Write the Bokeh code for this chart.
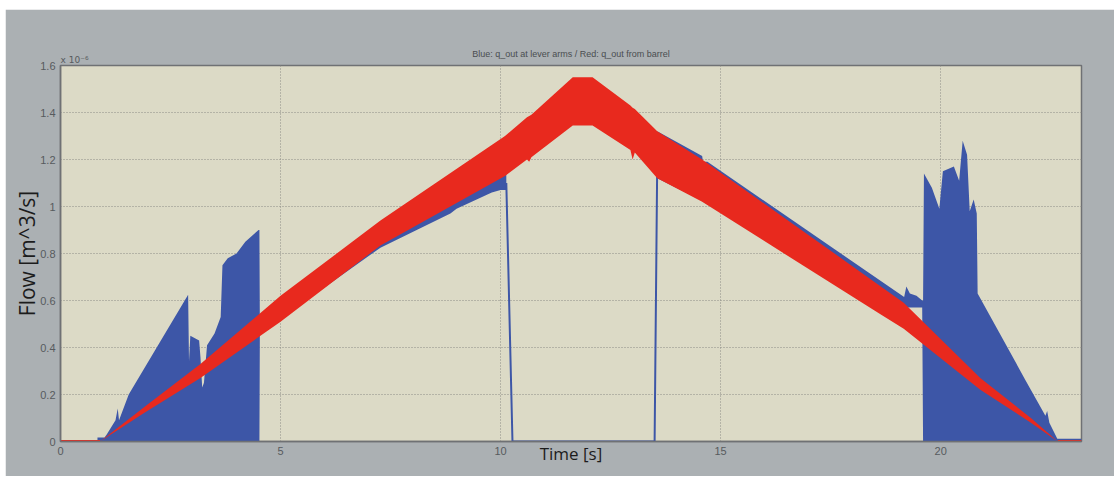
from bokeh.plotting import figure
from bokeh.models import FixedTicker, Range1d, Title
from bokeh.embed import file_html
from bokeh.resources import INLINE

# ---- data (flow in units of 1e-6 m^3/s, time in s) ----
# Red: q_out from barrel (band of a dense oscillation: lower / upper envelope)
red_x  = [0.90, 1.89, 3.18, 5.00, 7.27, 10.10, 10.60, 10.65, 10.70, 11.64, 12.09, 12.95, 13.00, 13.05, 13.56, 14.58, 18.64, 19.16, 20.90, 22.05, 22.66]
red_hi = [0.00, 0.145, 0.33, 0.62, 0.94, 1.30, 1.38, 1.385, 1.39, 1.55, 1.55, 1.43, 1.42, 1.415, 1.32, 1.20, 0.66, 0.59, 0.27, 0.10, 0.00]
red_lo = [0.00, 0.12, 0.27, 0.51, 0.834, 1.13, 1.20, 1.19, 1.21, 1.345, 1.345, 1.24, 1.20, 1.23, 1.12, 1.02, 0.54, 0.48, 0.22, 0.08, 0.00]
red_zero_x = [[0.0, 0.90], [22.66, 23.2]]

# Blue: q_out at lever arms, first part (0.84 s .. 10.13 s)
blue_a_x  = [0.84, 1.00, 1.05, 1.25, 1.30, 1.33, 1.55, 2.90, 2.92, 2.95, 3.15, 3.18, 3.22, 3.26, 3.33, 3.50, 3.64, 3.68, 3.80, 4.00, 4.20, 4.50, 4.52, 4.53, 7.27, 8.86, 9.00, 9.80, 10.00, 10.13]
blue_a_lo = [0.00, 0.00, 0.00, 0.00, 0.00, 0.00, 0.00, 0.00, 0.00, 0.00, 0.00, 0.00, 0.00, 0.00, 0.00, 0.00, 0.00, 0.00, 0.00, 0.00, 0.00, 0.00, 0.00, 0.46, 0.825, 0.97, 0.99, 1.06, 1.07, 1.07]
blue_a_hi = [0.017, 0.017, 0.03, 0.09, 0.14, 0.09, 0.20, 0.625, 0.34, 0.45, 0.43, 0.36, 0.23, 0.25, 0.41, 0.46, 0.53, 0.75, 0.78, 0.80, 0.85, 0.90, 0.90, 0.50, 0.88, 1.03, 1.05, 1.12, 1.14, 1.14]

# Blue: valve-closed part (drop to zero and rise again)
blue_gap_x = [10.13, 10.27, 13.50, 13.56]
blue_gap_y = [1.10, 0.00, 0.00, 1.20]

# Blue: second part (13.56 s .. end)
blue_b_x  = [13.56, 14.58, 14.60, 14.70, 19.17, 19.22, 19.30, 19.45, 19.58, 19.60, 19.62, 19.80, 19.97, 20.05, 20.30, 20.42, 20.50, 20.60, 20.66, 20.75, 20.82, 20.84, 21.93, 22.38, 22.42, 22.47, 22.65, 22.66, 23.20]
blue_b_lo = [1.12, 1.025, 1.02, 1.01, 0.57, 0.57, 0.57, 0.57, 0.57, 0.00, 0.00, 0.00, 0.00, 0.00, 0.00, 0.00, 0.00, 0.00, 0.00, 0.00, 0.00, 0.00, 0.00, 0.00, 0.00, 0.00, 0.00, 0.00, 0.00]
blue_b_hi = [1.32, 1.215, 1.19, 1.19, 0.615, 0.66, 0.63, 0.62, 0.60, 0.60, 1.14, 1.08, 0.99, 1.15, 1.17, 1.11, 1.28, 1.22, 0.98, 1.03, 0.97, 0.63, 0.26, 0.11, 0.13, 0.08, 0.012, 0.012, 0.012]

x_ticks = [0, 5, 10, 15, 20]
y_ticks = [0, 0.2, 0.4, 0.6, 0.8, 1.0, 1.2, 1.4, 1.6]
y_tick_labels = ["0", "0.2", "0.4", "0.6", "0.8", "1", "1.2", "1.4", "1.6"]

BG = "#abb0b3"
PLOT_BG = "#dcdac6"
BLUE = "#3d56a7"
RED = "#e8291e"
FRAME = "#6f7174"
TICK_TXT = "#575b5e"

p = figure(frame_width=1021, frame_height=376,
           min_border_left=55, min_border_right=33, min_border_top=56, min_border_bottom=35,
           x_range=Range1d(0, 23.2), y_range=Range1d(0, 1.6),
           output_backend="svg", toolbar_location=None,
           title="Blue: q_out at lever arms / Red: q_out from barrel")
p.margin = (9, 0, 0, 5)

p.background_fill_color = PLOT_BG
p.border_fill_color = BG
p.outline_line_color = FRAME
p.outline_line_width = 1.5

# multiplier of the y axis, just above the frame at the left
mult = Title(text="x 10\u207b\u2076", align="left", text_font="DejaVu Sans",
             text_font_size="9px", text_font_style="normal", text_color=TICK_TXT,
             standoff=1, offset=0)
p.add_layout(mult, "above")

p.title.align = "center"
p.title.text_font = "Liberation Sans"
p.title.text_font_size = "9px"
p.title.text_font_style = "normal"
p.title.text_color = "#4a4d50"
p.title.standoff = -12

# blue fills
p.varea(x=blue_a_x, y1=blue_a_lo, y2=blue_a_hi, fill_color=BLUE)
p.varea(x=blue_b_x, y1=blue_b_lo, y2=blue_b_hi, fill_color=BLUE)
p.line(blue_gap_x, blue_gap_y, line_color=BLUE, line_width=2)
# red band on top
p.varea(x=red_x, y1=red_lo, y2=red_hi, fill_color=RED)
for seg in red_zero_x:
    p.line(seg, [0, 0], line_color=RED, line_width=3)

# axes
for ax in (p.xaxis[0], p.yaxis[0]):
    ax.axis_line_color = FRAME
    ax.axis_line_width = 1.5
    ax.major_tick_line_color = None
    ax.minor_tick_line_color = None
    ax.major_tick_out = 0
    ax.major_tick_in = 0
    ax.minor_tick_out = 0
    ax.minor_tick_in = 0
    ax.major_label_text_font = "Liberation Sans"
    ax.major_label_text_font_size = "11px"
    ax.major_label_text_color = TICK_TXT
    ax.axis_label_text_font = "Open Sans"
    ax.axis_label_text_font_style = "normal"
    ax.axis_label_text_color = "#1c1c1c"

p.xaxis.ticker = FixedTicker(ticks=x_ticks)
p.yaxis.ticker = FixedTicker(ticks=y_ticks)
p.yaxis.major_label_overrides = {t: s for t, s in zip(y_ticks, y_tick_labels)}
p.xaxis.major_label_standoff = 5
p.yaxis.major_label_standoff = 5
p.xaxis.axis_label = "Time [s]"
p.xaxis.axis_label_text_font_size = "17px"
p.xaxis.axis_label_standoff = -16
p.yaxis.axis_label = "Flow [m^3/s]"
p.yaxis.axis_label_text_font_size = "21px"
p.yaxis.axis_label_standoff = -4

# grid
p.grid.grid_line_color = "#8d8d86"
p.grid.grid_line_dash = "1 2"
p.grid.grid_line_width = 1
p.xgrid.ticker = FixedTicker(ticks=x_ticks)
p.ygrid.ticker = FixedTicker(ticks=y_ticks)

open("out.html", "w").write(file_html(p, INLINE))
